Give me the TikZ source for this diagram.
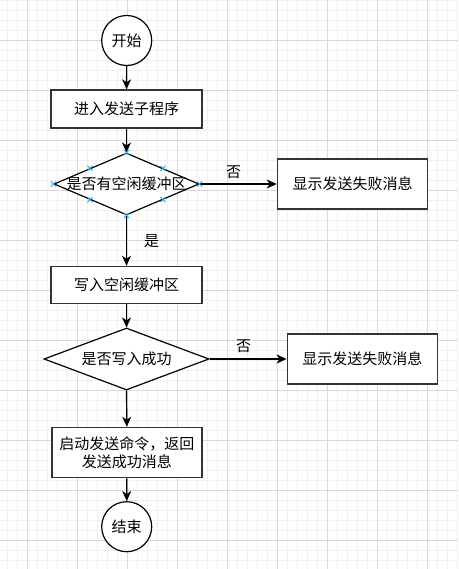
\documentclass[tikz,border=0pt]{standalone}
\usepackage{fontspec}
\newfontfamily\cjk{Noto Sans CJK SC}
\usetikzlibrary{shapes.geometric,arrows.meta,calc}
\definecolor{gridminor}{HTML}{F0F0F0}
\definecolor{gridmajor}{HTML}{D9D9D9}
\definecolor{edgecol}{HTML}{333333}
\definecolor{markblue}{HTML}{29A9E0}
\tikzset{
  txt/.style={font=\cjk\fontsize{15}{17.7}\selectfont, align=center},
  procbox/.style={draw=edgecol, line width=1.5pt, fill=white, rectangle, inner sep=0pt, txt},
  decbox/.style={draw=black, line width=1.2pt, fill=white, diamond, inner sep=0pt},
  termbox/.style={draw=black, line width=1.2pt, fill=white, circle, inner sep=0pt, minimum size=50pt, txt},
  flow/.style={draw=black, line width=1.2pt, -{Stealth[length=10pt, width=9pt, inset=3pt]}},
  elabel/.style={txt, inner sep=0pt},
  xmark/.style={draw=markblue, line width=0.9pt},
}
\begin{document}
\begin{tikzpicture}[x=1pt, y=-1pt]
\useasboundingbox (0,0) rectangle (458,569);
\fill[white] (0,0) rectangle (458,569);
% grid
\foreach \gx in {7.3,17.3,...,457.3} \draw[gridminor, line width=0.8pt] (\gx,0) -- (\gx,569);
\foreach \gy in {0.7,10.7,...,568.7} \draw[gridminor, line width=0.8pt] (0,\gy) -- (458,\gy);
\foreach \gx in {27.3,77.3,...,457.3} \draw[gridmajor, line width=0.8pt] (\gx,0) -- (\gx,569);
\foreach \gy in {40.7,90.7,...,568.7} \draw[gridmajor, line width=0.8pt] (0,\gy) -- (458,\gy);

% nodes
\node[termbox] (start) at (126.7,40.5) {开始};
\node[procbox, minimum width=151pt, minimum height=38pt] (p1) at (126.5,109) {进入发送子程序};
\node[decbox, minimum width=145pt, minimum height=62pt, label={[txt]center:是否有空闲缓冲区}] (d1) at (126.5,184) {};
\node[procbox, minimum width=150pt, minimum height=50pt] (f1) at (352.5,184) {显示发送失败消息};
\node[procbox, minimum width=151pt, minimum height=37pt] (p2) at (126.5,285) {写入空闲缓冲区};
\node[decbox, minimum width=165pt, minimum height=62pt, label={[txt]center:是否写入成功}] (d2) at (126.5,359) {};
\node[procbox, minimum width=150pt, minimum height=50pt] (f2) at (362.3,359) {显示发送失败消息};
\node[procbox, minimum width=150pt, minimum height=50pt] (p3) at (126.8,452.5) {启动发送命令，返回\\发送成功消息};
\node[termbox] (stop) at (126.7,526.7) {结束};

% connectors
\draw[flow] (start) -- (p1);
\draw[flow] (p1) -- (d1);
\draw[flow] (d1.east) -- (f1.west);
\draw[flow] (d1.south) -- (p2.north);
\draw[flow] (p2) -- (d2);
\draw[flow] (d2.east) -- (f2.west);
\draw[flow] (d2.south) -- (p3.north);
\draw[flow] (p3) -- (stop);

% edge labels
\node[elabel] (n1) at (233.5,172.5) {否};
\node[elabel] (y1) at (151.7,241.5) {是};
\node[elabel] (n2) at (243.5,346.5) {否};

% connection markers on first decision
\foreach \a in {north,south,east,west,north east,north west,south east,south west}{
  \draw[xmark] ($(d1.\a)+(-2.5,-2.5)$) -- ++(5,5);
  \draw[xmark] ($(d1.\a)+(-2.5,2.5)$) -- ++(5,-5);
}
\end{tikzpicture}
\end{document}
